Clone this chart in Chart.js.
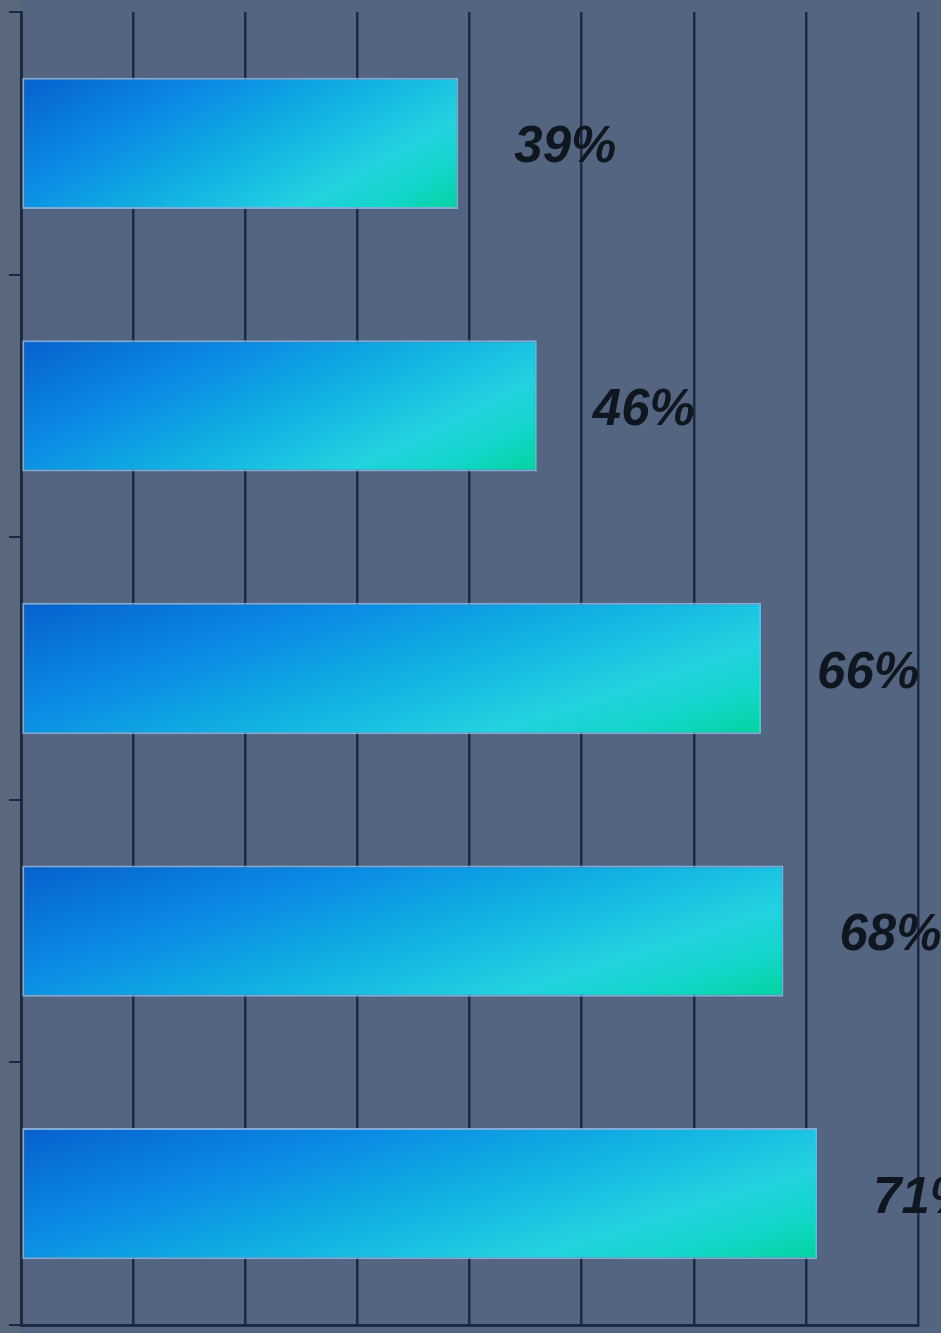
<!DOCTYPE html>
<html>
<head>
<meta charset="utf-8">
<script src="https://cdn.jsdelivr.net/npm/chart.js@4.4.1/dist/chart.umd.min.js"></script>
<style>
  html, body { margin: 0; padding: 0; background: #536580; overflow: hidden; }
  #wrap { width: 941px; height: 1333px; position: relative; }
</style>
</head>
<body>
<div id="wrap"><canvas id="chart"></canvas></div>
<script>
// ===== DATA =====
const categories = ['A', 'B', 'C', 'D', 'E'];
const percentValues = [39, 46, 66, 68, 71];
const axisMax = 80;
const axisStep = 10;

const GRID = '#1c2942';
const BAR_PCT = 0.5;

// stretched diagonal gradient, like the office-style fill of the original
function barFill(ctx) {
  const chart = ctx.chart;
  const xs = chart.scales && chart.scales.x;
  const ys = chart.scales && chart.scales.y;
  if (ctx.type !== 'data' || !chart.chartArea || !xs || !ys) return '#1a98e0';
  const x0 = xs.getPixelForValue(0);
  const x1 = xs.getPixelForValue(ctx.raw);
  const band = (ys.bottom - ys.top) / categories.length;
  const w = Math.max(2, Math.round(x1 - x0));
  const h = Math.max(2, Math.round(band * BAR_PCT));
  const yc = ys.getPixelForValue(ctx.dataIndex);

  const off = document.createElement('canvas');
  off.width = w; off.height = h;
  const g = off.getContext('2d');
  g.scale(w, h);
  const grad = g.createLinearGradient(0, 0, 1.193, 0.642);
  grad.addColorStop(0.00, '#0660cf');
  grad.addColorStop(0.30, '#0a8ce4');
  grad.addColorStop(0.54, '#12b2e2');
  grad.addColorStop(0.75, '#22d2e0');
  grad.addColorStop(0.88, '#12d6c8');
  grad.addColorStop(1.00, '#02d39c');
  g.fillStyle = grad;
  g.fillRect(0, 0, 1, 1);

  const pat = chart.ctx.createPattern(off, 'no-repeat');
  pat.setTransform(new DOMMatrix([1, 0, 0, 1, x0, yc - h / 2]));
  return pat;
}

const backdrop = {
  id: 'backdrop',
  beforeDraw(chart) {
    const { ctx, chartArea } = chart;
    ctx.save();
    ctx.fillStyle = '#536580';
    ctx.fillRect(0, 0, chart.width, chart.height);
    ctx.fillStyle = '#5a687e';
    ctx.fillRect(0, 0, chartArea.left, chart.height);
    ctx.restore();
  }
};

const valueLabels = {
  id: 'valueLabels',
  afterDatasetsDraw(chart) {
    const { ctx } = chart;
    const meta = chart.getDatasetMeta(0);
    ctx.save();
    ctx.font = 'italic bold 51px "Liberation Sans", Arial, sans-serif';
    ctx.fillStyle = '#10161f';
    ctx.textAlign = 'left';
    ctx.textBaseline = 'middle';
    meta.data.forEach((bar, i) => {
      ctx.fillText(percentValues[i] + '%', bar.x + 56, bar.y + 5);
    });
    ctx.restore();
  }
};

new Chart(document.getElementById('chart'), {
  type: 'bar',
  data: {
    labels: categories,
    datasets: [{
      data: percentValues,
      backgroundColor: barFill,
      borderColor: 'rgba(135,185,232,0.85)',
      borderWidth: 2,
      borderSkipped: false,
      barPercentage: BAR_PCT,
      categoryPercentage: 1.0
    }]
  },
  plugins: [backdrop, valueLabels],
  options: {
    indexAxis: 'y',
    responsive: true,
    maintainAspectRatio: false,
    animation: false,
    layout: { padding: { top: 12, right: 23, bottom: 8, left: 9 } },
    plugins: { legend: { display: false }, tooltip: { enabled: false } },
    scales: {
      x: {
        min: 0,
        max: axisMax,
        ticks: { display: false, stepSize: axisStep },
        grid: { color: GRID, lineWidth: 2.5, drawTicks: false },
        border: { color: GRID, width: 3 }
      },
      y: {
        ticks: { display: false },
        grid: { offset: true, drawOnChartArea: false, drawTicks: true, tickLength: 12, color: GRID, lineWidth: 2 },
        border: { color: GRID, width: 3 }
      }
    }
  }
});
</script>
</body>
</html>
